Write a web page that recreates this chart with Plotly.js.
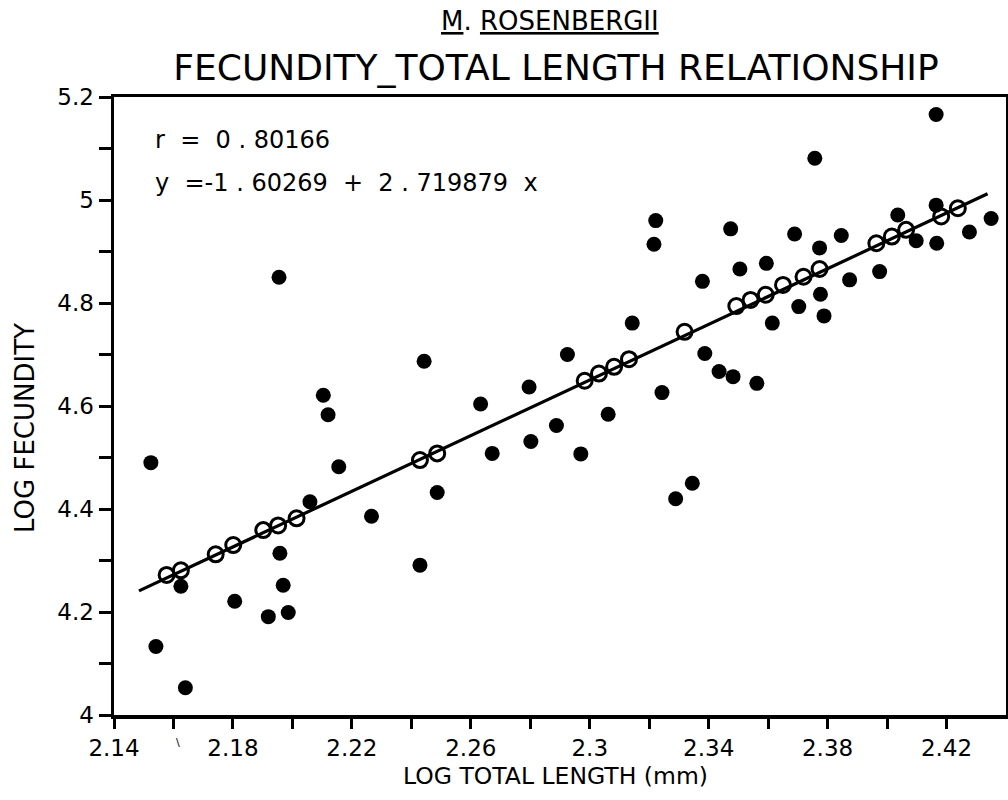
<!DOCTYPE html>
<html>
<head>
<meta charset="utf-8">
<script src="https://cdn.plot.ly/plotly-3.0.1.min.js"></script>
<style>html,body{margin:0;padding:0;background:#fff;}#chart{width:1008px;height:800px;}</style>
</head>
<body>
<div id="chart"></div>
<script>
// Observed points (filled dots): log total length, log fecundity
const obsX = [2.1524, 2.1541, 2.1625, 2.1640, 2.1806, 2.1919, 2.1955, 2.1958, 2.1969, 2.1986,
  2.2059, 2.2104, 2.2120, 2.2156, 2.2266, 2.2429, 2.2443, 2.2487, 2.2633, 2.2672,
  2.2796, 2.2802, 2.2888, 2.2925, 2.2970, 2.3062, 2.3143, 2.3216, 2.3222, 2.3243,
  2.3289, 2.3345, 2.3379, 2.3387, 2.3435, 2.3474, 2.3482, 2.3505, 2.3562, 2.3594,
  2.3614, 2.3689, 2.3703, 2.3757, 2.3773, 2.3776, 2.3788, 2.3846, 2.3874, 2.3975,
  2.4036, 2.4098, 2.4165, 2.4165, 2.4167, 2.4277, 2.4350];
const obsY = [4.490, 4.133, 4.250, 4.053, 4.221, 4.191, 4.850, 4.314, 4.252, 4.199,
  4.414, 4.621, 4.583, 4.482, 4.386, 4.291, 4.687, 4.432, 4.604, 4.508,
  4.637, 4.531, 4.562, 4.700, 4.507, 4.584, 4.761, 4.914, 4.960, 4.626,
  4.420, 4.450, 4.842, 4.702, 4.667, 4.944, 4.657, 4.866, 4.644, 4.877,
  4.761, 4.934, 4.793, 5.081, 4.907, 4.817, 4.775, 4.931, 4.845, 4.861,
  4.971, 4.921, 5.166, 4.990, 4.916, 4.938, 4.964];

// Predicted points (open circles on the regression line)
const fitX = [2.1577, 2.1625, 2.1742, 2.1801, 2.1902, 2.1952, 2.2014, 2.2429, 2.2487, 2.2983,
  2.3031, 2.3082, 2.3132, 2.3319, 2.3493, 2.3541, 2.3592, 2.3650, 2.3719, 2.3773,
  2.3964, 2.4016, 2.4064, 2.4182, 2.4238];
const fitY = [4.272, 4.281, 4.312, 4.330, 4.359, 4.368, 4.382, 4.495, 4.508, 4.649,
  4.663, 4.676, 4.691, 4.744, 4.794, 4.806, 4.816, 4.835, 4.851, 4.866,
  4.916, 4.929, 4.942, 4.968, 4.984];

// Regression line end points
const lineX = [2.1484, 2.4338];
const lineY = [4.241, 5.012];

// Tick labels
const xTickVals = [2.14, 2.16, 2.18, 2.20, 2.22, 2.24, 2.26, 2.28, 2.30, 2.32, 2.34, 2.36, 2.38, 2.40, 2.42];
const xTickText = ['2.14', '', '2.18', '', '2.22', '', '2.26', '', '2.3', '', '2.34', '', '2.38', '', '2.42'];
const yTickVals = [4.0, 4.1, 4.2, 4.3, 4.4, 4.5, 4.6, 4.7, 4.8, 4.9, 5.0, 5.1, 5.2];
const yTickText = ['4', '', '4.2', '', '4.4', '', '4.6', '', '4.8', '', '5', '', '5.2'];

const titleLine1 = '<u>M</u>. <u>ROSENBERGII</u>';
const titleLine2 = 'FECUNDITY_TOTAL LENGTH RELATIONSHIP';
const rText = 'r  =  0 . 80166';
const eqText = 'y  =-1 . 60269  +  2 . 719879  x';
const xTitle = 'LOG TOTAL LENGTH (mm)';
const yTitle = 'LOG FECUNDITY';

const FONT = 'DejaVu Sans, sans-serif';

// pixel helpers for paper-positioned text (plot area 114..1006 x 97..715)
const px = v => (v - 114) / 892;
const py = v => (715 - v) / 618;

const traces = [
  {x: lineX, y: lineY, type: 'scatter', mode: 'lines',
   line: {color: '#000', width: 3.2}, hoverinfo: 'skip', showlegend: false},
  {x: obsX, y: obsY, type: 'scatter', mode: 'markers',
   marker: {symbol: 'circle', size: 15, color: '#000'}, showlegend: false},
  {x: fitX, y: fitY, type: 'scatter', mode: 'markers',
   marker: {symbol: 'circle-open', size: 15, color: '#000', line: {color: '#000', width: 3}}, showlegend: false}
];

const layout = {
  width: 1008, height: 800,
  margin: {l: 114, r: 2, t: 97, b: 85},
  paper_bgcolor: '#fff', plot_bgcolor: '#fff',
  font: {family: FONT, color: '#000', size: 23},
  showlegend: false,
  title: {text: titleLine2, font: {family: FONT, size: 36, color: '#000'},
          xref: 'paper', x: px(556), xanchor: 'center',
          yref: 'container', y: 1 - 67/800, yanchor: 'middle'},
  xaxis: {
    range: [2.14, 2.44], tickmode: 'array', tickvals: xTickVals, ticktext: xTickText,
    ticks: 'outside', ticklen: 10, tickwidth: 3, tickcolor: '#000',
    showline: true, linecolor: '#000', linewidth: 3.5, mirror: true,
    showgrid: false, zeroline: false,
    tickfont: {family: FONT, size: 23, color: '#000'}
  },
  yaxis: {
    range: [4.0, 5.2], tickmode: 'array', tickvals: yTickVals, ticktext: yTickText,
    ticks: 'outside', ticklen: 12, tickwidth: 3, tickcolor: '#000',
    showline: true, linecolor: '#000', linewidth: 3.5, mirror: true,
    showgrid: false, zeroline: false,
    tickfont: {family: FONT, size: 23, color: '#000'}
  },
  annotations: [
    {text: titleLine1, xref: 'paper', yref: 'paper', x: px(550), y: py(21),
     xanchor: 'center', yanchor: 'middle', showarrow: false,
     font: {family: FONT, size: 26, color: '#000'}},
    {text: rText, xref: 'paper', yref: 'paper', x: px(153), y: py(140),
     xanchor: 'left', yanchor: 'middle', showarrow: false,
     font: {family: FONT, size: 24, color: '#000'}},
    {text: eqText, xref: 'paper', yref: 'paper', x: px(153), y: py(183),
     xanchor: 'left', yanchor: 'middle', showarrow: false,
     font: {family: FONT, size: 24, color: '#000'}},
    {text: xTitle, xref: 'paper', yref: 'paper', x: px(555), y: py(776),
     xanchor: 'center', yanchor: 'middle', showarrow: false,
     font: {family: FONT, size: 23.5, color: '#000'}},
    {text: yTitle, xref: 'paper', yref: 'paper', x: px(25), y: py(428),
     xanchor: 'center', yanchor: 'middle', showarrow: false, textangle: -90,
     font: {family: FONT, size: 26, color: '#000'}},
    {text: '\\', xref: 'paper', yref: 'paper', x: px(178), y: py(742),
     xanchor: 'center', yanchor: 'middle', showarrow: false,
     font: {family: FONT, size: 11, color: '#000'}}
  ]
};

Plotly.newPlot('chart', traces, layout, {staticPlot: true, displayModeBar: false});
</script>
</body>
</html>
